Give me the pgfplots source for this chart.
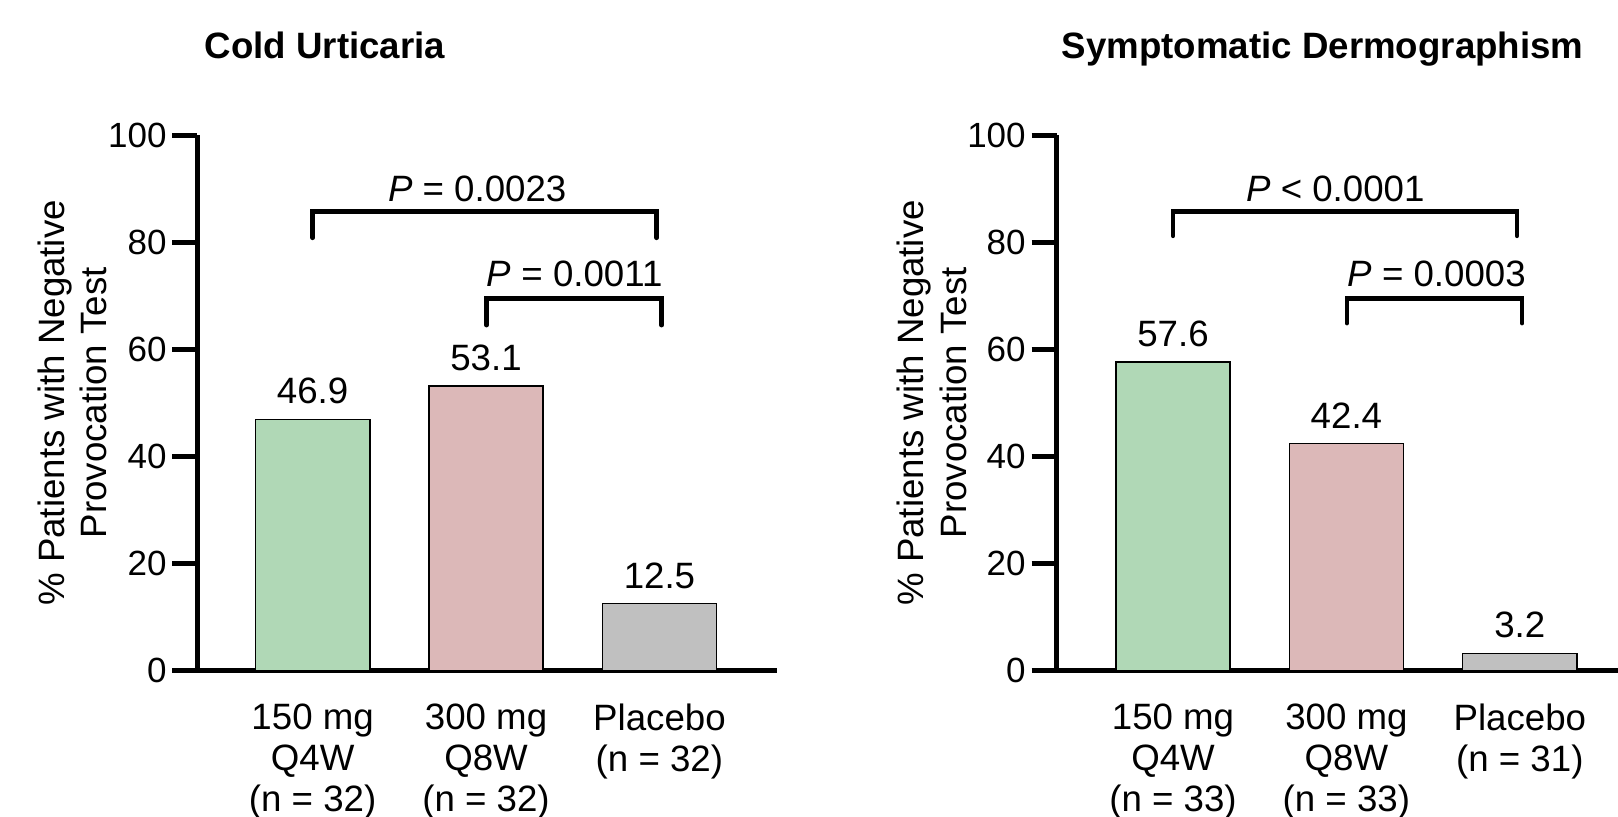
\documentclass[border=0pt]{standalone}
\usepackage{fontspec}
\setmainfont{Liberation Sans}
\usepackage{pgfplots}
\pgfplotsset{compat=1.18}

\definecolor{grn}{RGB}{176,216,182}
\definecolor{pnk}{RGB}{220,184,184}
\definecolor{gry}{RGB}{192,192,192}

\tikzset{
  brk/.style={line width=1.45pt, line cap=round},
  ptxt/.style={anchor=base, font=\fontsize{11}{13}\selectfont},
}

\pgfplotsset{
  panel/.style={
    x=52.02pt, y=1.607pt,
    anchor=south west,
    ymin=0, ymax=100, enlargelimits=false,
    axis lines=left,
    axis line style={line width=1.5pt, -},
    ytick={0,20,...,100}, xtick={0,1,2},
    tick align=outside, major tick length=7.5pt,
    ytick style={line width=1.5pt, black},
    xtick style={draw=none},
    /pgf/number format/assume math mode=true,
    yticklabel style={font=\fontsize{10.5}{12}\selectfont, inner sep=1.6pt},
    xticklabel style={font=\fontsize{11}{12.25}\selectfont, align=center, yshift=1pt},
    ybar, bar width=34.3pt, bar shift=0pt,
    every axis plot/.append style={draw=black, line width=0.45pt},
    nodes near coords, point meta=explicit symbolic,
    every node near coord/.append style={font=\fontsize{11}{13}\selectfont, yshift=1pt},
    every axis y label/.style={at={(rel axis cs:0,0.5)}, xshift=-26.85pt, rotate=90,
      anchor=south, inner sep=0pt, align=center, font=\fontsize{11}{12.75}\selectfont},
    ylabel={\% Patients with Negative\\Provocation Test},
    clip=false,
  },
}

\begin{document}
\begin{tikzpicture}
\useasboundingbox (0,0) rectangle (485.4pt,245.1pt);

\node[anchor=base, font=\bfseries\fontsize{11}{13}\selectfont] at (97.5pt,227.5pt) {Cold Urticaria};
\node[anchor=base, font=\bfseries\fontsize{11}{13}\selectfont] at (396.8pt,227.5pt) {Symptomatic Dermographism};

% Cold urticaria
\begin{axis}[panel, at={(59.25pt,43.89pt)}, xmin=-0.664, xmax=2.678,
  xticklabels={{150 mg\\Q4W\\(n = 32)},{300 mg\\Q8W\\(n = 32)},{Placebo\\(n = 32)}}]
\addplot[fill=grn] coordinates {(0,46.9) [46.9]};
\addplot[fill=pnk] coordinates {(1,53.1) [53.1]};
\addplot[fill=gry] coordinates {(2,12.5) [12.5]};
\draw[brk] (axis cs:0,80.83) -- (axis cs:0,85.68) -- (axis cs:1.984,85.68) -- (axis cs:1.984,80.83);
\draw[brk] (axis cs:1.003,64.53) -- (axis cs:1.003,69.52) -- (axis cs:2.013,69.52) -- (axis cs:2.013,64.53);
\node[ptxt] at (axis cs:0.949,87.64) {\textit{P} = 0.0023};
\node[ptxt] at (axis cs:1.511,71.68) {\textit{P} = 0.0011};
\end{axis}

% Symptomatic dermographism
\begin{axis}[panel, at={(317pt,43.89pt)}, xmin=-0.671, xmax=2.6,
  xticklabels={{150 mg\\Q4W\\(n = 33)},{300 mg\\Q8W\\(n = 33)},{Placebo\\(n = 31)}}]
\addplot[fill=grn] coordinates {(0,57.6) [57.6]};
\addplot[fill=pnk] coordinates {(1,42.4) [42.4]};
\addplot[fill=gry] coordinates {(2,3.2) [3.2]};
\draw[brk] (axis cs:0,81.2) -- (axis cs:0,85.68) -- (axis cs:1.984,85.68) -- (axis cs:1.984,81.2);
\draw[brk] (axis cs:1.003,64.9) -- (axis cs:1.003,69.52) -- (axis cs:2.013,69.52) -- (axis cs:2.013,64.9);
\node[ptxt] at (axis cs:0.936,87.64) {\textit{P} < 0.0001};
\node[ptxt] at (axis cs:1.52,71.68) {\textit{P} = 0.0003};
\end{axis}
\end{tikzpicture}
\end{document}
